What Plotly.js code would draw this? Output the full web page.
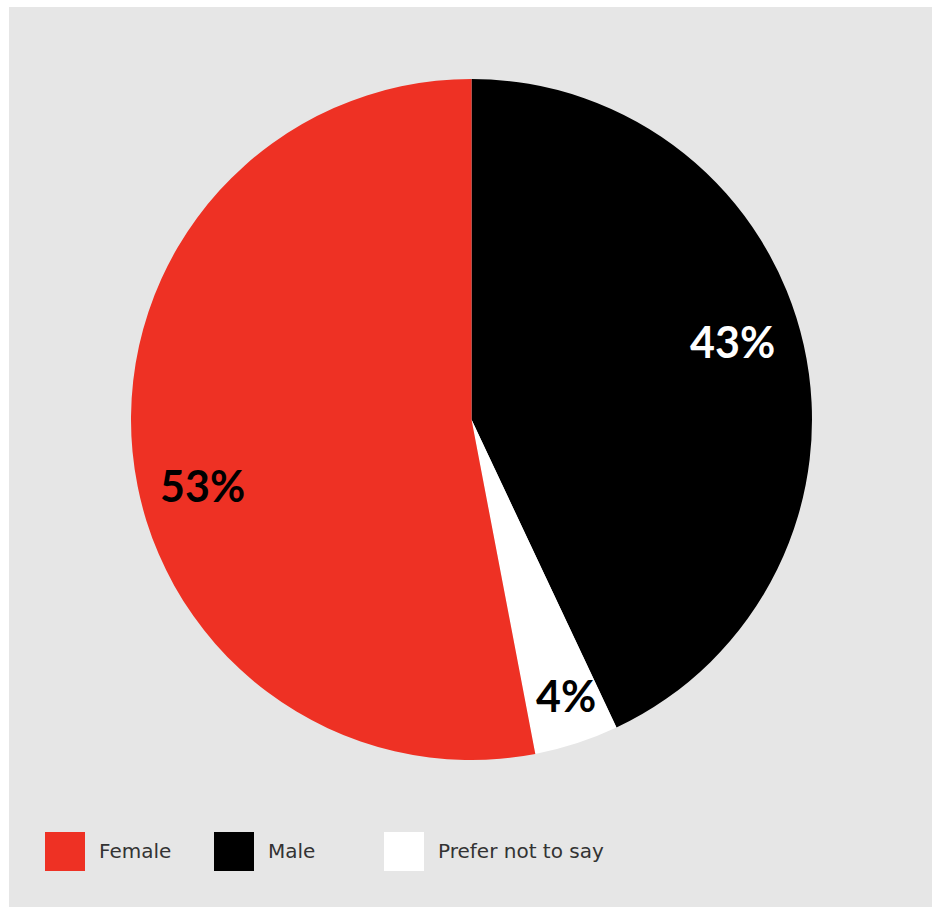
<!DOCTYPE html>
<html>
<head>
<meta charset="utf-8">
<script src="https://cdn.plot.ly/plotly-3.0.1.min.js"></script>
<style>html,body{margin:0;padding:0;background:#fff;}#chart{width:935px;height:908px;}</style>
</head>
<body>
<div id="chart"></div>
<script>
// Data (pie order, clockwise from 12 o'clock)
const sliceLabels = ["Male", "Prefer not to say", "Female"];
const sliceValues = [43, 4, 53];
const sliceColors = ["#000000", "#ffffff", "#ee3124"];
const labelTextColors = ["#ffffff", "#000000", "#000000"];
// Legend order
const legendLabels = ["Female", "Male", "Prefer not to say"];

const W = 935, H = 908;
const cx = 471.5, cy = 419.5, R = 340.5;
// label placement inside each slice: fraction along the slice arc, fraction of radius
const labelArcFrac = [0.474, 0.44, 0.456];
const labelRadius = [0.80, 0.858, 0.813];

const total = sliceValues.reduce((a, b) => a + b, 0);
const annotations = [];
let cum = 0;
sliceValues.forEach((v, i) => {
  const ang = (cum + v * labelArcFrac[i]) / total * 2 * Math.PI;
  cum += v;
  const px = cx + R * labelRadius[i] * Math.sin(ang);
  const py = cy - R * labelRadius[i] * Math.cos(ang);
  annotations.push({
    x: px / W, y: 1 - py / H, xref: "paper", yref: "paper",
    text: Math.round(v / total * 100) + "%", showarrow: false,
    font: {family: "Lato, 'DejaVu Sans', sans-serif", size: 43, color: labelTextColors[i], weight: 700},
    xanchor: "center", yanchor: "middle"
  });
});

const shapes = [{
  type: "rect", xref: "paper", yref: "paper",
  x0: 9 / W, x1: 932 / W, y0: 1 - 907 / H, y1: 1 - 7 / H,
  fillcolor: "#e6e6e6", line: {width: 0}, layer: "below"
}];

const legendX = [45, 214, 384];
legendLabels.forEach((lab, j) => {
  const idx = sliceLabels.indexOf(lab);
  shapes.push({
    type: "rect", xref: "paper", yref: "paper",
    x0: legendX[j] / W, x1: (legendX[j] + 40) / W,
    y0: 1 - 871 / H, y1: 1 - 832 / H,
    fillcolor: sliceColors[idx], line: {width: 0}, layer: "above"
  });
  annotations.push({
    x: (legendX[j] + 52) / W, y: 1 - 851 / H, xref: "paper", yref: "paper",
    text: lab, showarrow: false, xanchor: "left", yanchor: "middle",
    font: {family: "'DejaVu Sans', sans-serif", size: 20, color: "#333333"}
  });
});

const data = [{
  type: "pie",
  labels: sliceLabels,
  values: sliceValues,
  marker: {colors: sliceColors, line: {width: 0}},
  sort: false,
  direction: "clockwise",
  rotation: 0,
  textinfo: "none",
  hoverinfo: "label+percent",
  showlegend: false,
  domain: {x: [(cx - R) / W, (cx + R) / W], y: [1 - (cy + R) / H, 1 - (cy - R) / H]}
}];

const layout = {
  width: W, height: H,
  margin: {l: 0, r: 0, t: 0, b: 0},
  paper_bgcolor: "#ffffff",
  showlegend: false,
  shapes: shapes,
  annotations: annotations
};

Plotly.newPlot("chart", data, layout, {displayModeBar: false, staticPlot: true});
</script>
</body>
</html>
